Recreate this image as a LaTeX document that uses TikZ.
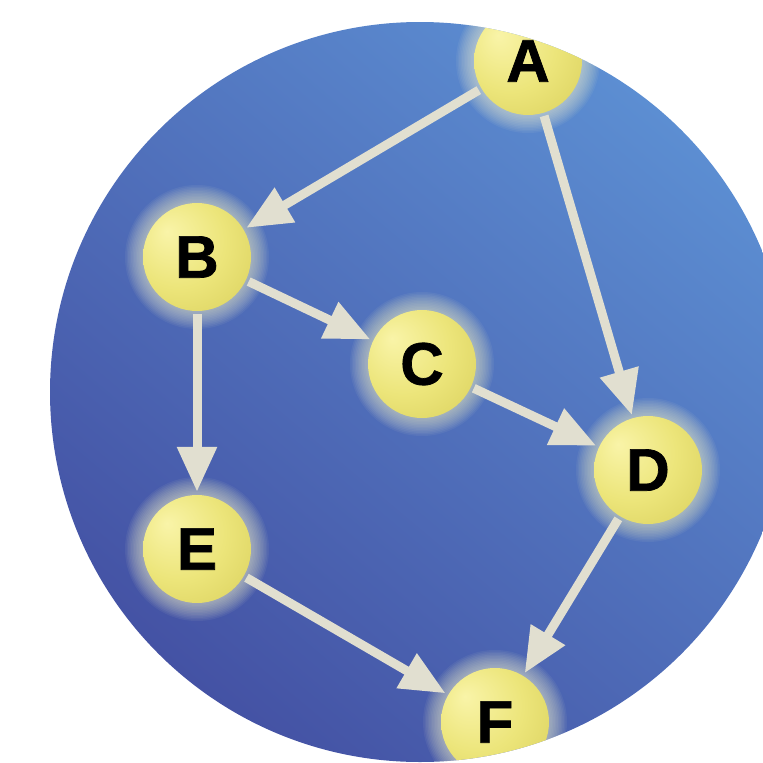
\documentclass[tikz,border=0pt]{standalone}
\usepackage{fontspec}
\setmainfont{Liberation Sans}[BoldFeatures={FakeBold=1.2}]
\usetikzlibrary{arrows.meta}

\definecolor{bglight}{RGB}{92,142,210}
\definecolor{bgdark}{RGB}{68,82,164}
\definecolor{ballhi}{RGB}{249,244,168}
\definecolor{ballmid}{RGB}{236,229,122}
\definecolor{balllo}{RGB}{212,202,84}
\definecolor{glowcol}{RGB}{242,242,205}
\definecolor{linkcol}{RGB}{225,223,208}

\pgfdeclareradialshading{nodeball}{\pgfpoint{-14bp}{12bp}}{%
    color(0bp)=(ballhi); color(22bp)=(ballmid); color(48bp)=(balllo); color(60bp)=(balllo)}

\tikzset{
    vertex/.style={circle, minimum size=108pt, inner sep=0pt, shade, shading=nodeball,
        font=\fontsize{60}{60}\selectfont\bfseries},
    halo/.style={fill=glowcol, opacity=0.06},
    link/.style={draw=linkcol, line width=9pt, -{Triangle[length=45pt,width=38pt]},
        shorten <=3pt, shorten >=3pt}
}

\begin{document}
\begin{tikzpicture}[x=1pt,y=-1pt]
    \useasboundingbox (0,0) rectangle (763,763);
    \clip (420,392) circle (370pt);
    \shade[top color=bglight, bottom color=bgdark, shading angle=-40] (420,392) circle (370pt);
    % the six vertices, each with its glow
    \foreach \n/\x/\y in {A/528/61, B/197/257, C/422/364, D/648/470, E/197/549, F/495/722}{
        \foreach \k in {1,...,12}
            \fill[halo] (\x,\y) circle[radius={54pt+1.5pt*\k}];
        \node[vertex] (\n) at (\x,\y) {\n};
    }
    \foreach \s/\t in {A/B,A/D,B/C,B/E,C/D,D/F,E/F}{
        \draw[link] (\s) -- (\t);
    }
\end{tikzpicture}
\end{document}
